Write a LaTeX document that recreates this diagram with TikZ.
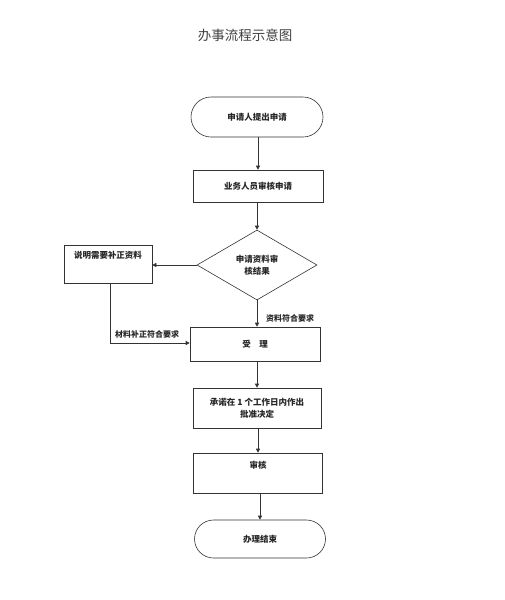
\documentclass[tikz,border=0pt]{standalone}
\usepackage{fontspec}
\setmainfont{Noto Sans CJK SC}
\usetikzlibrary{shapes.geometric,shapes.misc,arrows.meta}
\begin{document}
\begin{tikzpicture}[x=1pt,y=-1pt,
  every node/.style={font=\fontsize{8.5}{12}\selectfont\bfseries, text=black!85},
  proc/.style={draw=black!80, line width=0.6pt, rectangle, inner sep=0pt},
  term/.style={draw=black!80, line width=0.6pt, rounded rectangle, inner sep=0pt},
  dec/.style={draw=black!80, line width=0.6pt, diamond, inner sep=0pt},
  conn/.style={draw=black!80, line width=0.6pt, -{Triangle[length=4pt,width=4pt]}},
  lbl/.style={font=\fontsize{8}{10}\selectfont\bfseries, inner sep=0pt}
]
\useasboundingbox (0,0) rectangle (505,600);
\node[font=\fontsize{13.5}{16}\selectfont, text=black!75] (title) at (245,35) {办事流程示意图};

\node[term, minimum width=132pt, minimum height=40pt] (t1) at (257,117) {申请人提出申请};
\node[proc, minimum width=130pt, minimum height=32pt] (b2) at (258,186) {业务人员审核申请};
\node[dec, minimum width=120pt, minimum height=70pt] (d) at (257,265) {};
\node[align=center] (dt) at (257,265) {申请资料审\\核结果};
\node[proc, minimum width=88pt, minimum height=38pt] (lb) at (108,264) {};
\node (lbt) at (108,255) {说明需要补正资料};
\node[proc, minimum width=130pt, minimum height=34pt] (b3) at (255,344) {受　理};
\node[proc, minimum width=128pt, minimum height=40pt, align=center] (b4) at (257,408) {承诺在 1 个工作日内作出\\批准决定};
\node[proc, minimum width=129pt, minimum height=40pt] (b5) at (258,473) {};
\node (b5t) at (258,465) {审核};
\node[term, minimum width=131pt, minimum height=38pt] (t2) at (260,539) {办理结束};

\coordinate (c1) at (110,343);

\draw[conn] (t1.south -| b2.north) -- (b2.north);
\draw[conn] (b2.south -| d.north) -- (d.north);
\draw[conn] (d.west) -- (d.west -| lb.east);
\draw[conn] (d.south) -- (d.south |- b3.north);
\draw[line width=0.6pt, draw=black!80] (lb.south -| c1) -- (c1);
\draw[conn] (c1) -- (c1 -| b3.west);
\draw[conn] (b3.south -| b4.north) -- (b4.north);
\draw[conn] (b4.south -| b5.north) -- (b5.north);
\draw[conn] (b5.south -| t2.north) -- (t2.north);

\node[lbl, anchor=west] (l1) at (266,318) {资料符合要求};
\node[lbl, anchor=west] (l2) at (115,334) {材料补正符合要求};
\end{tikzpicture}
\end{document}
